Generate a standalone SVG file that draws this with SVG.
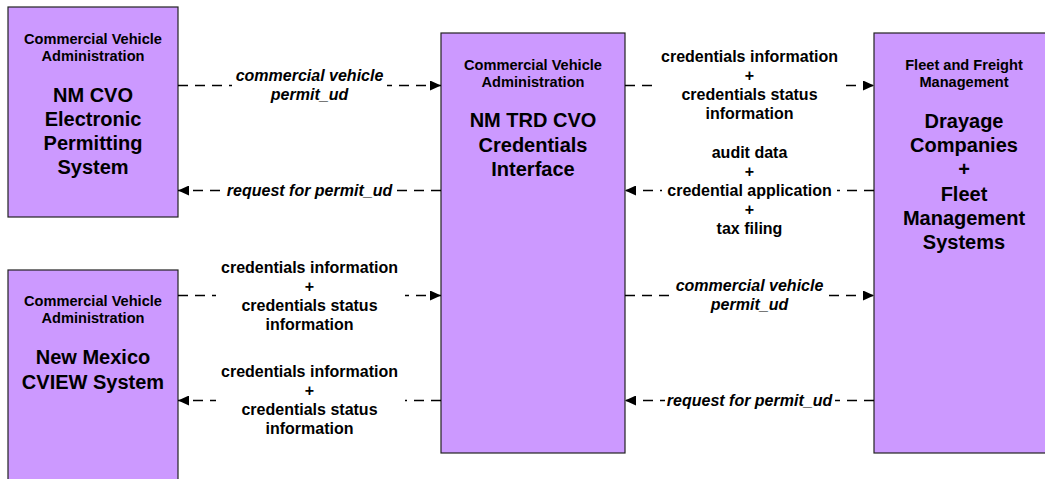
<svg xmlns="http://www.w3.org/2000/svg" width="1045" height="479" viewBox="0 0 1045 479">
<style>
.box{fill:#CC99FF;stroke:#222;stroke-width:1.2}
.hd{font-family:"Liberation Sans",Arial,sans-serif;font-weight:bold;font-size:14.6px;fill:#000;text-anchor:middle}
.tt{font-family:"Liberation Sans",Arial,sans-serif;font-weight:bold;font-size:20px;fill:#000;text-anchor:middle}
.lb{font-family:"Liberation Sans",Arial,sans-serif;font-weight:bold;font-size:16px;fill:#000;text-anchor:middle}
.it{font-style:italic}
.cn{fill:none;stroke:#000;stroke-width:1.3;stroke-dasharray:10 7}
.bg{fill:#fff}
</style>
<defs>
<marker id="ah" markerUnits="userSpaceOnUse" markerWidth="12" markerHeight="10" refX="11" refY="5" orient="auto">
<path d="M0,0 L11,5 L0,10 Z" fill="#000"/>
</marker>
</defs>
<rect width="1045" height="479" fill="#fff"/>

<g id="node-epermit">
<rect class="box" x="8" y="7" width="170" height="210"/>
<text class="hd" x="93" y="44">Commercial Vehicle</text>
<text class="hd" x="93" y="61">Administration</text>
<text class="tt" x="93" y="102">NM CVO</text>
<text class="tt" x="93" y="126">Electronic</text>
<text class="tt" x="93" y="150">Permitting</text>
<text class="tt" x="93" y="174">System</text>
</g>

<g id="node-cview">
<rect class="box" x="8" y="270" width="170" height="220"/>
<text class="hd" x="93" y="306">Commercial Vehicle</text>
<text class="hd" x="93" y="323">Administration</text>
<text class="tt" x="93" y="364">New Mexico</text>
<text class="tt" x="93" y="389">CVIEW System</text>
</g>

<g id="node-trd">
<rect class="box" x="441" y="33" width="184" height="420"/>
<text class="hd" x="533" y="70">Commercial Vehicle</text>
<text class="hd" x="533" y="87">Administration</text>
<text class="tt" x="533" y="127">NM TRD CVO</text>
<text class="tt" x="533" y="152">Credentials</text>
<text class="tt" x="533" y="176">Interface</text>
</g>

<g id="node-fleet">
<rect class="box" x="874" y="33" width="180" height="420"/>
<text class="hd" x="964" y="70">Fleet and Freight</text>
<text class="hd" x="964" y="87">Management</text>
<text class="tt" x="964" y="128">Drayage</text>
<text class="tt" x="964" y="152">Companies</text>
<text class="tt" x="964" y="176">+</text>
<text class="tt" x="964" y="201">Fleet</text>
<text class="tt" x="964" y="225">Management</text>
<text class="tt" x="964" y="249">Systems</text>
</g>

<g id="connectors">
<path class="cn" d="M178,85.5 H441" marker-end="url(#ah)"/>
<rect class="bg" x="232" y="68" width="155" height="36"/>
<text class="lb it" x="309.5" y="81">commercial vehicle</text>
<text class="lb it" x="309.5" y="100">permit_ud</text>

<path class="cn" d="M441,190.5 H178" marker-end="url(#ah)"/>
<rect class="bg" x="226" y="183" width="168" height="16"/>
<text class="lb it" x="309.5" y="196">request for permit_ud</text>

<path class="cn" d="M178,295.5 H441" marker-end="url(#ah)"/>
<rect class="bg" x="216" y="259" width="189" height="72"/>
<text class="lb" x="309.5" y="273">credentials information</text>
<text class="lb" x="309.5" y="292">+</text>
<text class="lb" x="309.5" y="311">credentials status</text>
<text class="lb" x="309.5" y="330">information</text>

<path class="cn" d="M441,400.5 H178" marker-end="url(#ah)"/>
<rect class="bg" x="216" y="363" width="189" height="72"/>
<text class="lb" x="309.5" y="377">credentials information</text>
<text class="lb" x="309.5" y="396">+</text>
<text class="lb" x="309.5" y="415">credentials status</text>
<text class="lb" x="309.5" y="434">information</text>

<path class="cn" d="M625,85.5 H874" marker-end="url(#ah)"/>
<rect class="bg" x="655" y="48" width="189" height="72"/>
<text class="lb" x="749.5" y="62">credentials information</text>
<text class="lb" x="749.5" y="81">+</text>
<text class="lb" x="749.5" y="100">credentials status</text>
<text class="lb" x="749.5" y="119">information</text>

<path class="cn" d="M874,190.5 H625" marker-end="url(#ah)"/>
<rect class="bg" x="662" y="144" width="175" height="92"/>
<text class="lb" x="749.5" y="158">audit data</text>
<text class="lb" x="749.5" y="177">+</text>
<text class="lb" x="749.5" y="196">credential application</text>
<text class="lb" x="749.5" y="215">+</text>
<text class="lb" x="749.5" y="234">tax filing</text>

<path class="cn" d="M625,295.5 H874" marker-end="url(#ah)"/>
<rect class="bg" x="672" y="278" width="155" height="36"/>
<text class="lb it" x="749.5" y="291">commercial vehicle</text>
<text class="lb it" x="749.5" y="310">permit_ud</text>

<path class="cn" d="M874,400.5 H625" marker-end="url(#ah)"/>
<rect class="bg" x="665" y="393" width="170" height="16"/>
<text class="lb it" x="749.5" y="406">request for permit_ud</text>
</g>
</svg>
